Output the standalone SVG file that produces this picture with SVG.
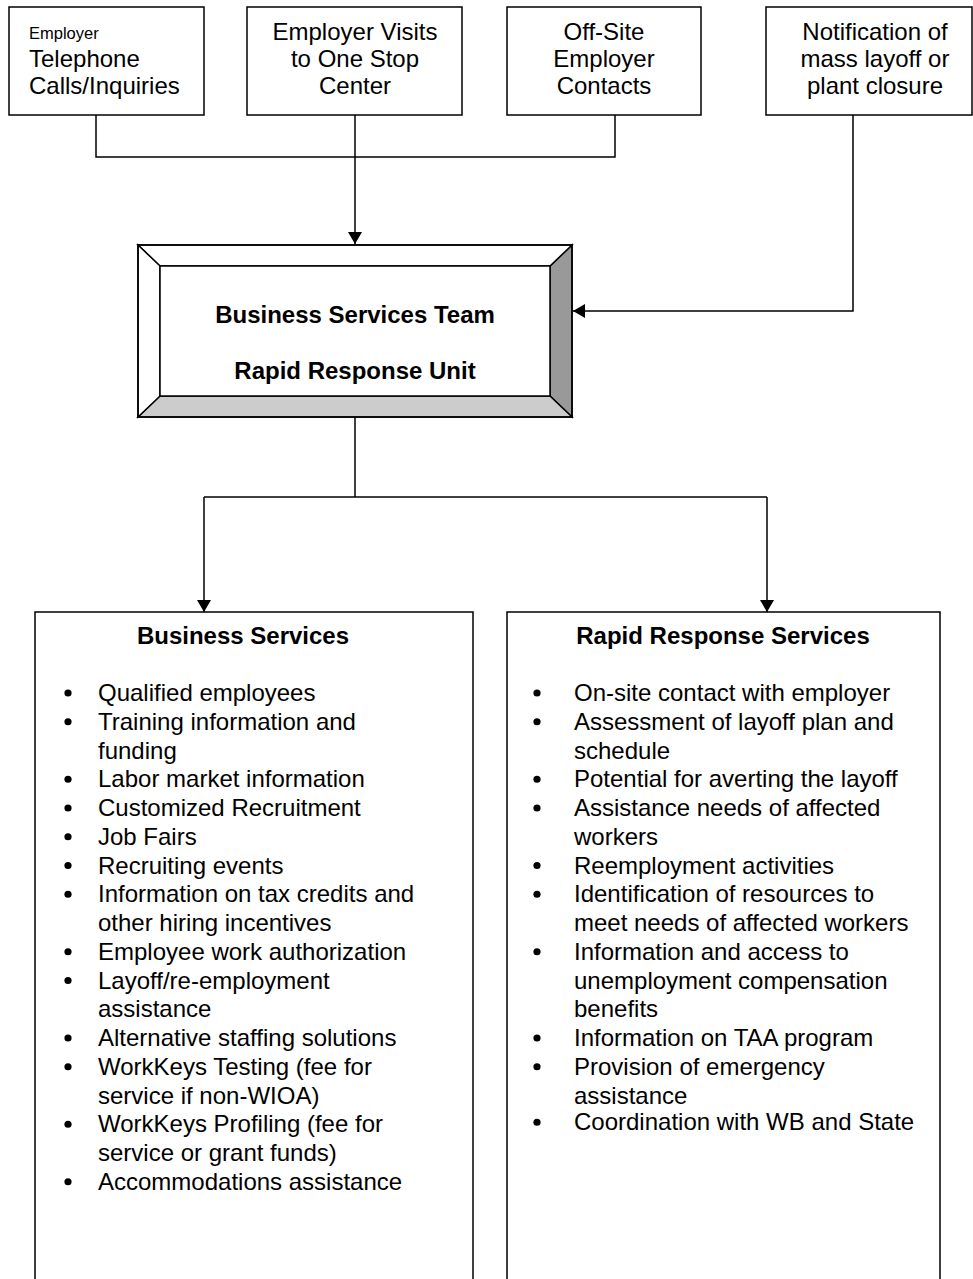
<svg xmlns="http://www.w3.org/2000/svg" width="973" height="1279" viewBox="0 0 973 1279">
<style>
.box{fill:#fff;stroke:#000;stroke-width:1.5}
.t{font-family:"Liberation Sans",Arial,sans-serif;font-size:24px;fill:#000}
.c{text-anchor:middle}
.b{font-weight:bold}
.ln{fill:none;stroke:#000;stroke-width:1.5}
</style>
<defs>
<marker id="ah" markerWidth="12" markerHeight="14" refX="12" refY="7" orient="auto" markerUnits="userSpaceOnUse">
<path d="M0,0 L12,7 L0,14 Z" fill="#000"/>
</marker>
<circle id="dot" r="3.6" fill="#000"/>
</defs>
<rect width="973" height="1279" fill="#fff"/>

<g id="n1">
<rect class="box" x="9" y="7" width="195" height="108"/>
<text class="t" x="29" y="39" style="font-size:16.5px">Employer</text>
<text class="t" x="29" y="67.4">Telephone</text>
<text class="t" x="29" y="94.4">Calls/Inquiries</text>
</g>
<g id="n2">
<rect class="box" x="247" y="7" width="215" height="108"/>
<text class="t c" x="355" y="40.4">Employer Visits</text>
<text class="t c" x="355" y="67.4">to One Stop</text>
<text class="t c" x="355" y="94.4">Center</text>
</g>
<g id="n3">
<rect class="box" x="507" y="7" width="194" height="108"/>
<text class="t c" x="604" y="40.4">Off-Site</text>
<text class="t c" x="604" y="67.4">Employer</text>
<text class="t c" x="604" y="94.4">Contacts</text>
</g>
<g id="n4">
<rect class="box" x="766" y="7" width="206" height="108"/>
<text class="t c" x="875" y="40.4">Notification of</text>
<text class="t c" x="875" y="67.4">mass layoff or</text>
<text class="t c" x="875" y="94.4">plant closure</text>
</g>

<g id="center">
<rect x="138" y="245" width="434" height="172" fill="#fff"/>
<polygon points="572,245 550,266 550,396 572,417" fill="#999" stroke="#000" stroke-width="1.5"/>
<polygon points="138,417 160,396 550,396 572,417" fill="#ccc" stroke="#000" stroke-width="1.5"/>
<polygon points="138,245 160,266 550,266 572,245" fill="#fff" stroke="#000" stroke-width="1.5"/>
<polygon points="138,245 160,266 160,396 138,417" fill="#fff" stroke="#000" stroke-width="1.5"/>
<rect x="138" y="245" width="434" height="172" fill="none" stroke="#000" stroke-width="1.5"/>
<rect x="160" y="266" width="390" height="130" fill="#fff" stroke="#000" stroke-width="1.5"/>
<text class="t c b" x="355" y="323.4">Business Services Team</text>
<text class="t c b" x="355" y="379.4">Rapid Response Unit</text>
</g>

<g id="connectors">
<polyline class="ln" points="96,115 96,157 615,157 615,115"/>
<line class="ln" x1="355" y1="115" x2="355" y2="244" marker-end="url(#ah)"/>
<polyline class="ln" points="853,115 853,311 573,311" marker-end="url(#ah)"/>
<line class="ln" x1="355" y1="417" x2="355" y2="497"/>
<line class="ln" x1="204" y1="497" x2="767" y2="497"/>
<line class="ln" x1="204" y1="497" x2="204" y2="612" marker-end="url(#ah)"/>
<line class="ln" x1="767" y1="497" x2="767" y2="612" marker-end="url(#ah)"/>
</g>

<g id="business-services">
<polyline class="ln" points="35,1279 35,612 473,612 473,1279"/>
<text class="t c b" x="243" y="644">Business Services</text>
<use href="#dot" x="68" y="693"/><text class="t" x="98" y="701">Qualified employees</text>
<use href="#dot" x="68" y="721.75"/><text class="t" x="98" y="729.75">Training information and</text>
<text class="t" x="98" y="758.5">funding</text>
<use href="#dot" x="68" y="779.25"/><text class="t" x="98" y="787.25">Labor market information</text>
<use href="#dot" x="68" y="808"/><text class="t" x="98" y="816">Customized Recruitment</text>
<use href="#dot" x="68" y="836.75"/><text class="t" x="98" y="844.75">Job Fairs</text>
<use href="#dot" x="68" y="865.5"/><text class="t" x="98" y="873.5">Recruiting events</text>
<use href="#dot" x="68" y="894.25"/><text class="t" x="98" y="902.25">Information on tax credits and</text>
<text class="t" x="98" y="931">other hiring incentives</text>
<use href="#dot" x="68" y="951.75"/><text class="t" x="98" y="959.75">Employee work authorization</text>
<use href="#dot" x="68" y="980.5"/><text class="t" x="98" y="988.5">Layoff/re-employment</text>
<text class="t" x="98" y="1017.25">assistance</text>
<use href="#dot" x="68" y="1038"/><text class="t" x="98" y="1046">Alternative staffing solutions</text>
<use href="#dot" x="68" y="1066.75"/><text class="t" x="98" y="1074.75">WorkKeys Testing (fee for</text>
<text class="t" x="98" y="1103.5">service if non-WIOA)</text>
<use href="#dot" x="68" y="1124.25"/><text class="t" x="98" y="1132.25">WorkKeys Profiling (fee for</text>
<text class="t" x="98" y="1161">service or grant funds)</text>
<use href="#dot" x="68" y="1181.75"/><text class="t" x="98" y="1189.75">Accommodations assistance</text>
</g>

<g id="rapid-response-services">
<polyline class="ln" points="507,1279 507,612 940,612 940,1279"/>
<text class="t c b" x="723" y="644">Rapid Response Services</text>
<use href="#dot" x="537" y="693"/><text class="t" x="574" y="701">On-site contact with employer</text>
<use href="#dot" x="537" y="721.75"/><text class="t" x="574" y="729.75">Assessment of layoff plan and</text>
<text class="t" x="574" y="758.5">schedule</text>
<use href="#dot" x="537" y="779.25"/><text class="t" x="574" y="787.25">Potential for averting the layoff</text>
<use href="#dot" x="537" y="808"/><text class="t" x="574" y="816">Assistance needs of affected</text>
<text class="t" x="574" y="844.75">workers</text>
<use href="#dot" x="537" y="865.5"/><text class="t" x="574" y="873.5">Reemployment activities</text>
<use href="#dot" x="537" y="894.25"/><text class="t" x="574" y="902.25">Identification of resources to</text>
<text class="t" x="574" y="931">meet needs of affected workers</text>
<use href="#dot" x="537" y="951.75"/><text class="t" x="574" y="959.75">Information and access to</text>
<text class="t" x="574" y="988.5">unemployment compensation</text>
<text class="t" x="574" y="1017.25">benefits</text>
<use href="#dot" x="537" y="1038"/><text class="t" x="574" y="1046">Information on TAA program</text>
<use href="#dot" x="537" y="1066.75"/><text class="t" x="574" y="1074.75">Provision of emergency</text>
<text class="t" x="574" y="1103.5">assistance</text>
<use href="#dot" x="537" y="1122.25"/><text class="t" x="574" y="1130.25">Coordination with WB and State</text>
</g>
</svg>
